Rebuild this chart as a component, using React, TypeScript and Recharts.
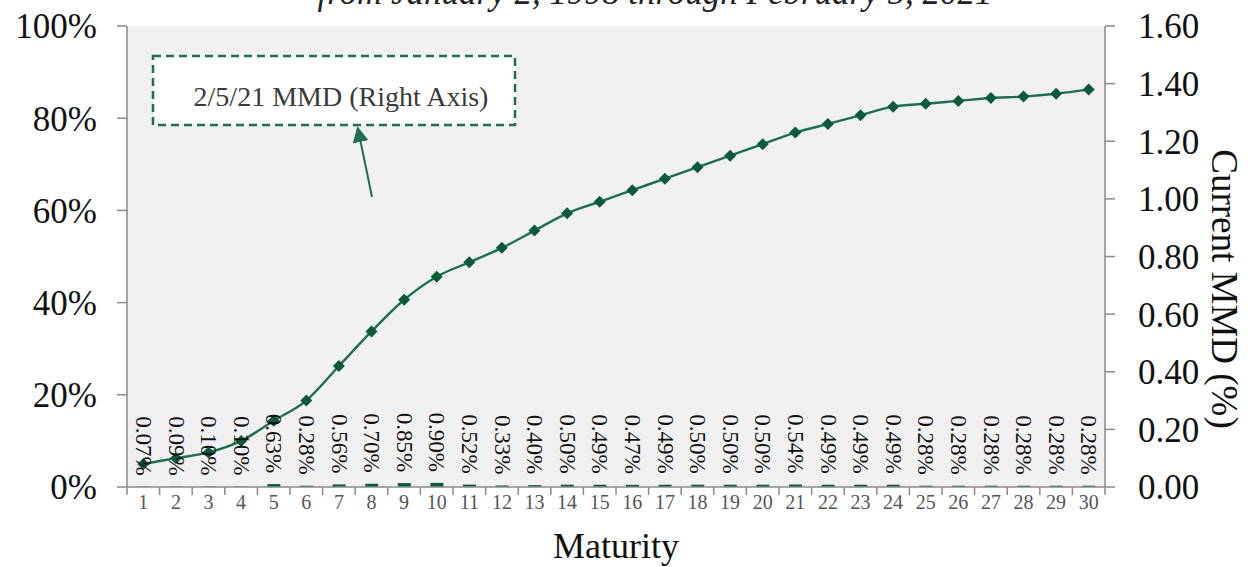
import React from "react";
import {
  ComposedChart,
  Bar,
  Line,
  XAxis,
  YAxis,
  CartesianGrid,
  LabelList,
} from "recharts";

const maturities = [
  "1", "2", "3", "4", "5", "6", "7", "8", "9", "10",
  "11", "12", "13", "14", "15", "16", "17", "18", "19", "20",
  "21", "22", "23", "24", "25", "26", "27", "28", "29", "30",
];

// small bars on the left (%) axis
const spreadPct = [
  0.07, 0.09, 0.1, 0.1, 0.63, 0.28, 0.56, 0.7, 0.85, 0.9,
  0.52, 0.33, 0.4, 0.5, 0.49, 0.47, 0.49, 0.5, 0.5, 0.5,
  0.54, 0.49, 0.49, 0.49, 0.28, 0.28, 0.28, 0.28, 0.28, 0.28,
];

// 2/5/21 MMD curve on the right axis
const mmd = [
  0.08, 0.1, 0.12, 0.16, 0.23, 0.3, 0.42, 0.54, 0.65, 0.73,
  0.78, 0.83, 0.89, 0.95, 0.99, 1.03, 1.07, 1.11, 1.15, 1.19,
  1.23, 1.26, 1.29, 1.32, 1.33, 1.34, 1.35, 1.355, 1.365, 1.38,
];

const leftTicks = [0, 20, 40, 60, 80, 100];
const rightTicks = [0, 0.2, 0.4, 0.6, 0.8, 1.0, 1.2, 1.4, 1.6];

const data = maturities.map((m, i) => ({
  m,
  spread: spreadPct[i],
  mmd: mmd[i],
}));

const W = 1254;
const H = 567;
const LEFT_W = 127;
const RIGHT_W = 149;
const TOP = 26;
const BOTTOM = 80;
const FONT = "'Liberation Serif', 'DejaVu Serif', serif";
const GREEN = "#1d6e52";
const DARK_GREEN = "#0c5a3c";
const AXIS = "#8a8a8a";

const band = (W - LEFT_W - RIGHT_W) / maturities.length;

const XTick = (props: any) => {
  const { x, y, payload, index } = props;
  const half = band / 2;
  const last = index === maturities.length - 1;
  return (
    <g>
      <line x1={x - half} x2={x - half} y1={y} y2={y + 8} stroke={AXIS} strokeWidth={1.5} />
      {last && (
        <line x1={x + half} x2={x + half} y1={y} y2={y + 8} stroke={AXIS} strokeWidth={1.5} />
      )}
      <text
        x={x}
        y={y + 22}
        textAnchor="middle"
        fontSize={20}
        fill="#555"
        fontFamily={FONT}
      >
        {payload.value}
      </text>
    </g>
  );
};

const Diamond = (props: any) => {
  const { cx, cy } = props;
  if (cx == null || cy == null) return null;
  const r = 6;
  return (
    <polygon
      points={`${cx},${cy - r} ${cx + r},${cy} ${cx},${cy + r} ${cx - r},${cy}`}
      fill={DARK_GREEN}
    />
  );
};

const BarLabel = (props: any) => {
  const { x, y, width, value } = props;
  const cx = x + width / 2;
  const ty = y - 11;
  return (
    <text
      x={cx}
      y={ty}
      transform={`rotate(90 ${cx} ${ty})`}
      textAnchor="end"
      dominantBaseline="central"
      style={{ fontSize: 23, fontFamily: FONT }}
      fill="#111"
    >
      {`${Number(value).toFixed(2)}%`}
    </text>
  );
};

export default function App() {
  return (
    <div style={{ position: "absolute", left: 0, top: 0, width: W, height: H, background: "#fff" }}>
      <ComposedChart
        width={W}
        height={H}
        data={data}
        margin={{ top: TOP, right: 0, bottom: 0, left: 0 }}
        barSize={13}
      >
        <CartesianGrid horizontal={false} vertical={false} fill="#f1f1f1" />
        <XAxis
          dataKey="m"
          height={BOTTOM}
          axisLine={{ stroke: AXIS, strokeWidth: 1.5 }}
          tickLine={false}
          tickSize={0}
          tickMargin={0}
          interval={0}
          tick={<XTick />}
          label={{
            value: "Maturity",
            position: "insideBottom",
            offset: 9,
            fontSize: 36,
            fill: "#111",
            fontFamily: FONT,
          }}
        />
        <YAxis
          yAxisId="left"
          width={LEFT_W}
          domain={[0, 100]}
          ticks={leftTicks}
          tickFormatter={(v: number) => `${v}%`}
          axisLine={{ stroke: AXIS, strokeWidth: 1.5 }}
          tickLine={{ stroke: AXIS, strokeWidth: 1.5 }}
          tickSize={10}
          tickMargin={20}
          tick={{ fontSize: 35, fill: "#111", fontFamily: FONT }}
        />
        <YAxis
          yAxisId="right"
          orientation="right"
          width={RIGHT_W}
          domain={[0, 1.6]}
          ticks={rightTicks}
          tickFormatter={(v: number) => v.toFixed(2)}
          axisLine={{ stroke: AXIS, strokeWidth: 1.5 }}
          tickLine={{ stroke: AXIS, strokeWidth: 1.5 }}
          tickSize={10}
          tickMargin={23}
          tick={{ fontSize: 35, fill: "#111", fontFamily: FONT }}
        />
        <Bar yAxisId="left" dataKey="spread" fill={DARK_GREEN} isAnimationActive={false}>
          <LabelList dataKey="spread" content={<BarLabel />} />
        </Bar>
        <Line
          yAxisId="right"
          dataKey="mmd"
          type="monotone"
          stroke={GREEN}
          strokeWidth={2.4}
          dot={<Diamond />}
          activeDot={false}
          isAnimationActive={false}
        />
      </ComposedChart>
      <svg
        width={W}
        height={H}
        style={{ position: "absolute", left: 0, top: 0, pointerEvents: "none" }}
      >
        <defs>
          <marker id="arrowHead" markerWidth="8" markerHeight="8" refX="4" refY="4" orient="auto">
            <path d="M0,0 L8,4 L0,8 z" fill={GREEN} />
          </marker>
        </defs>
        <text
          x={655}
          y={4}
          textAnchor="middle"
          fontSize={35}
          fontStyle="italic"
          fill="#222"
          fontFamily={FONT}
        >
          from January 2, 1998 through February 5, 2021
        </text>
        <rect
          x={153}
          y={56}
          width={362}
          height={69}
          fill="#fff"
          stroke={GREEN}
          strokeWidth={2.5}
          strokeDasharray="8 5"
        />
        <text x={341} y={106} textAnchor="middle" fontSize={28} fill="#3a3a3a" fontFamily={FONT}>
          2/5/21 MMD (Right Axis)
        </text>
        <line
          x1={372}
          y1={197}
          x2={359}
          y2={134}
          stroke={GREEN}
          strokeWidth={2}
          markerEnd="url(#arrowHead)"
        />
        <text
          x={1224}
          y={289}
          transform="rotate(90 1224 289)"
          textAnchor="middle"
          dominantBaseline="central"
          fontSize={37}
          fill="#111"
          fontFamily={FONT}
        >
          Current MMD (%)
        </text>
      </svg>
    </div>
  );
}
